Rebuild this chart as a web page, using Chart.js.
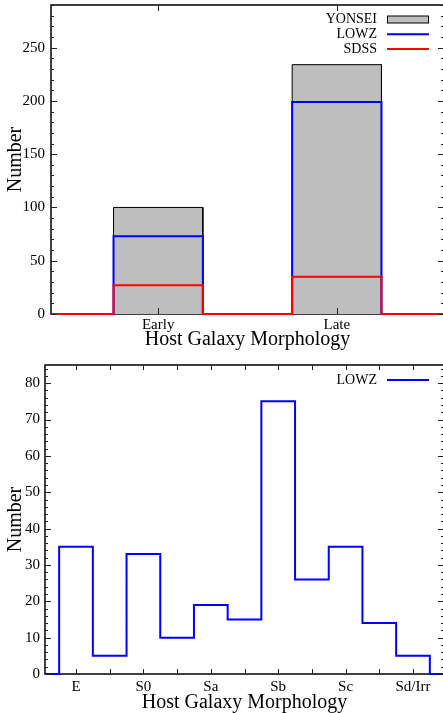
<!DOCTYPE html>
<html>
<head>
<meta charset="utf-8">
<script src="https://cdn.jsdelivr.net/npm/chart.js@4/dist/chart.umd.min.js"></script>
<style>
  html, body { margin: 0; padding: 0; background: #fff; overflow: hidden; width: 443px; height: 713px; }
  .panel { position: absolute; left: 0; width: 446px; }
  #p1 { top: 0; height: 356px; }
  #p2 { top: 356px; height: 357px; }
  canvas { display: block; }
</style>
</head>
<body>
<div class="panel" id="p1"><canvas id="c1" width="446" height="356"></canvas></div>
<div class="panel" id="p2"><canvas id="c2" width="446" height="357"></canvas></div>
<script>
// ---- Panel 1: host morphology split into early / late ----
const broadClasses = ['Early', 'Late'];
const yonseiCounts = [100, 234];
const lowzCounts   = [73, 199];
const sdssCounts   = [27, 35];
const countTicks1  = [0, 50, 100, 150, 200, 250];

// ---- Panel 2: LOWZ sample by detailed morphological type ----
const morphTypes   = ['E', 'S0', 'Sa', 'Sb', 'Sc', 'Sd/Irr'];
// bins: E, E/S0, S0, S0/Sa, Sa, Sa/Sb, Sb, Sb/Sc, Sc, Sc/Sd, Sd/Irr
const lowzByType   = [35, 5, 33, 10, 19, 15, 75, 26, 35, 14, 5];
const countTicks2  = [0, 10, 20, 30, 40, 50, 60, 70, 80];

const SERIF = "'Liberation Serif', 'Times New Roman', 'DejaVu Serif', serif";
Chart.defaults.font.family = SERIF;
Chart.defaults.color = '#000';

// Histogram outline (step line) through the bin edges, dropping to zero between separated bins.
function outline(counts, centers, half, lo, hi) {
  const pts = [{ x: lo, y: 0 }];
  let prevRight = null, prevVal = 0;
  counts.forEach((v, i) => {
    const l = centers[i] - half, r = centers[i] + half;
    if (prevRight !== null && Math.abs(prevRight - l) > 1e-9) {
      pts.push({ x: prevRight, y: 0 });
      prevVal = 0;
    }
    pts.push({ x: l, y: prevVal }, { x: l, y: v }, { x: r, y: v });
    prevRight = r; prevVal = v;
  });
  pts.push({ x: prevRight, y: 0 }, { x: hi, y: 0 });
  return pts;
}

function range(a, b, step) {
  const out = [];
  for (let v = a; v <= b + 1e-9; v += step) out.push(Math.round(v * 1000) / 1000);
  return out;
}

// Frame, inward tick marks on all four sides, and a right-aligned legend.
const framePlugin = {
  id: 'frameTicks',
  beforeDatasetsDraw(chart, args, o) {
    const { ctx, chartArea: a } = chart;
    ctx.save();
    ctx.strokeStyle = '#000';
    ctx.lineWidth = 1.5;
    ctx.strokeRect(a.left, a.top, a.right - a.left, a.bottom - a.top);
    ctx.restore();
  },
  afterDatasetsDraw(chart, args, o) {
    const { ctx, chartArea: a, scales } = chart;
    const xs = scales.x, ys = scales.y;
    ctx.save();
    ctx.strokeStyle = '#222';
    ctx.lineWidth = 1;
    ctx.beginPath();
    o.yMajor.forEach(v => {
      const y = Math.round(ys.getPixelForValue(v)) + 0.5;
      ctx.moveTo(a.left, y); ctx.lineTo(a.left + o.yMajorLen, y);
      ctx.moveTo(a.right, y); ctx.lineTo(a.right - o.yMajorLen, y);
    });
    o.yMinor.forEach(v => {
      const y = Math.round(ys.getPixelForValue(v)) + 0.5;
      ctx.moveTo(a.left, y); ctx.lineTo(a.left + o.yMinorLen, y);
      ctx.moveTo(a.right, y); ctx.lineTo(a.right - o.yMinorLen, y);
    });
    o.xMarks.forEach(v => {
      const x = Math.round(xs.getPixelForValue(v)) + 0.5;
      ctx.moveTo(x, a.bottom); ctx.lineTo(x, a.bottom - o.xLen);
      ctx.moveTo(x, a.top); ctx.lineTo(x, a.top + o.xLen);
    });
    ctx.stroke();
    ctx.restore();
  },
  afterDraw(chart, args, o) {
    const { ctx } = chart;
    ctx.save();
    ctx.font = '14px ' + SERIF;
    ctx.textAlign = 'right';
    ctx.textBaseline = 'middle';
    ctx.fillStyle = '#000';
    chart.data.datasets.forEach((ds, i) => {
      const y = o.legendTop + i * o.legendStep;
      ctx.fillText(ds.label, o.legendTextRight, y);
      if (ds.fill) {
        ctx.fillStyle = ds.backgroundColor;
        ctx.fillRect(o.legendX0, y - 3.5, o.legendX1 - o.legendX0, 7);
        ctx.strokeStyle = '#000';
        ctx.lineWidth = 1;
        ctx.strokeRect(o.legendX0 + 0.5, y - 3.5, o.legendX1 - o.legendX0 - 1, 7);
        ctx.fillStyle = '#000';
      } else {
        ctx.strokeStyle = ds.borderColor;
        ctx.lineWidth = 2;
        ctx.beginPath();
        ctx.moveTo(o.legendX0, y); ctx.lineTo(o.legendX1, y);
        ctx.stroke();
      }
    });
    ctx.restore();
  }
};

const stepLine = (label, color, data, order) => ({
  label, data, order,
  borderColor: color, borderWidth: 2, backgroundColor: color,
  fill: false, pointRadius: 0, tension: 0, borderJoinStyle: 'miter', clip: 4
});

function makeScales(xMin, xMax, xTickVals, xLabels, yMax, yTickVals, yWidth, xHeight, yPad, xPad, xTitlePad) {
  return {
    x: {
      type: 'linear', min: xMin, max: xMax,
      grid: { display: false, drawTicks: false }, border: { display: false },
      afterBuildTicks: s => { s.ticks = xTickVals.map(v => ({ value: v })); },
      afterFit: s => { s.height = xHeight; s.paddingLeft = 0; s.paddingRight = 0; },
      ticks: { font: { size: 15 }, padding: xPad, maxRotation: 0, autoSkip: false,
               callback: v => { const i = xTickVals.indexOf(v); return i >= 0 ? xLabels[i] : ''; } },
      title: { display: true, text: 'Host Galaxy Morphology', font: { size: 20 },
               padding: { top: 0, bottom: xTitlePad } }
    },
    y: {
      type: 'linear', min: 0, max: yMax,
      grid: { display: false, drawTicks: false }, border: { display: false },
      afterBuildTicks: s => { s.ticks = yTickVals.map(v => ({ value: v })); },
      afterFit: s => { s.width = yWidth; s.paddingTop = 0; s.paddingBottom = 0; },
      ticks: { font: { size: 15 }, padding: yPad, autoSkip: false },
      title: { display: true, text: 'Number', font: { size: 20 }, padding: { top: 4, bottom: 0 } }
    }
  };
}

// Panel 1
const centers1 = [1, 2];
new Chart(document.getElementById('c1'), {
  type: 'line',
  data: {
    datasets: [
      { label: 'YONSEI', data: outline(yonseiCounts, centers1, 0.25, 0.4, 2.6), order: 3,
        borderColor: '#000', borderWidth: 1, backgroundColor: '#bebebe', fill: 'origin',
        pointRadius: 0, tension: 0, clip: 4 },
      stepLine('LOWZ', '#0000ff', outline(lowzCounts, centers1, 0.25, 0.4, 2.6), 2),
      stepLine('SDSS', '#ff0000', outline(sdssCounts, centers1, 0.25, 0.4, 2.6), 1)
    ]
  },
  options: {
    responsive: false, animation: false, devicePixelRatio: 1,
    layout: { padding: { top: 5, right: 2, bottom: 0, left: 0 } },
    scales: makeScales(0.4, 2.6, centers1, broadClasses, 290, countTicks1, 51, 42, 6, 2, 4),
    plugins: {
      legend: { display: false }, tooltip: { enabled: false },
      frameTicks: {
        yMajor: countTicks1, yMinor: range(0, 290, 10).filter(v => v % 50 !== 0),
        yMajorLen: 6, yMinorLen: 3, xMarks: centers1, xLen: 6,
        legendTop: 19.5, legendStep: 14.8, legendTextRight: 377, legendX0: 387, legendX1: 429
      }
    }
  },
  plugins: [framePlugin]
});

// Panel 2
const centers2 = range(0, 5, 0.5);
new Chart(document.getElementById('c2'), {
  type: 'line',
  data: {
    datasets: [
      stepLine('LOWZ', '#0000ff', outline(lowzByType, centers2, 0.25, -0.46, 5.46), 1)
    ]
  },
  options: {
    responsive: false, animation: false, devicePixelRatio: 1,
    layout: { padding: { top: 9, right: 2, bottom: 0, left: 0 } },
    scales: makeScales(-0.46, 5.46, [0, 1, 2, 3, 4, 5], morphTypes, 85, countTicks2, 45, 39, 5, 4, -2),
    plugins: {
      legend: { display: false }, tooltip: { enabled: false },
      frameTicks: {
        yMajor: countTicks2, yMinor: range(0, 84, 2).filter(v => v % 10 !== 0),
        yMajorLen: 6, yMinorLen: 3, xMarks: centers2, xLen: 5,
        legendTop: 24, legendStep: 14.8, legendTextRight: 377, legendX0: 387, legendX1: 429
      }
    }
  },
  plugins: [framePlugin]
});
</script>
</body>
</html>
